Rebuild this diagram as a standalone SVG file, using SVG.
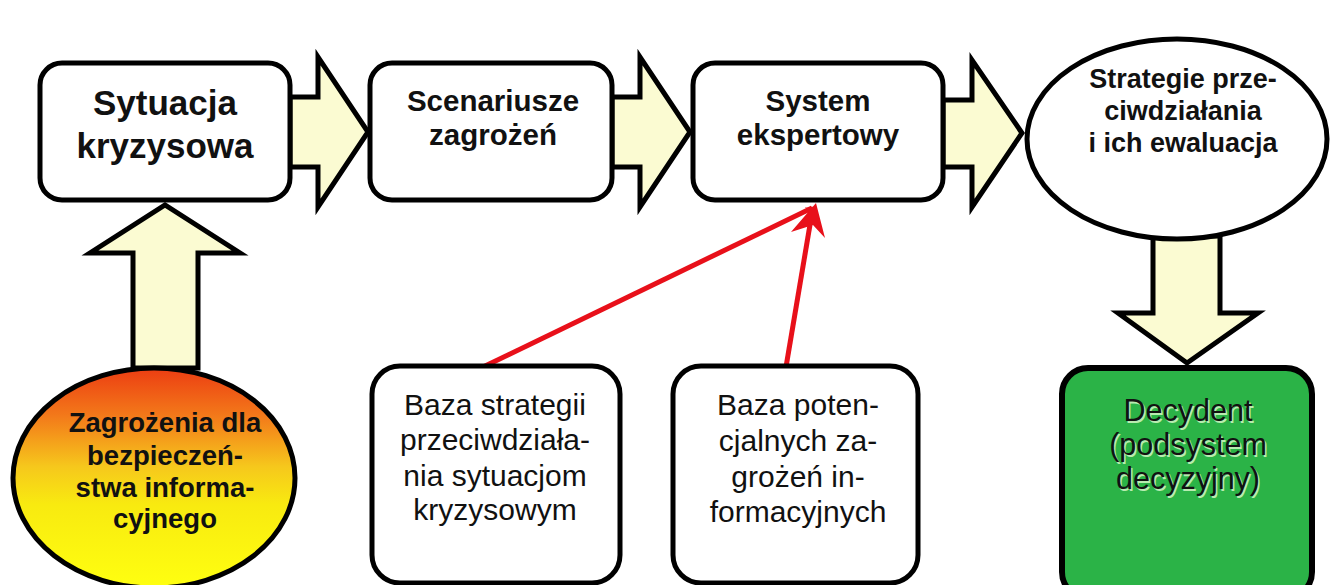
<svg xmlns="http://www.w3.org/2000/svg" width="1330" height="585" viewBox="0 0 1330 585">
  <defs>
    <linearGradient id="threatFill" x1="0" y1="0" x2="0" y2="1">
      <stop offset="0" stop-color="#ec3d12"/>
      <stop offset="0.22" stop-color="#f37a1a"/>
      <stop offset="0.45" stop-color="#f6c81c"/>
      <stop offset="0.62" stop-color="#f8ea10"/>
      <stop offset="1" stop-color="#ffff10"/>
    </linearGradient>
    <marker id="redHead" viewBox="0 0 10 10" refX="9" refY="5" markerWidth="7" markerHeight="7" markerUnits="userSpaceOnUse" orient="auto">
      <path d="M0,0 L10,5 L0,10 L3,5 Z" fill="#e8101a"/>
    </marker>
  </defs>
  <style>
    .box { fill: #ffffff; stroke: #000000; stroke-width: 5; }
    .flow { fill: #fbfbd2; stroke: #000000; stroke-width: 5; stroke-linejoin: miter; }
    .bold { font-family: "Liberation Sans", Arial, sans-serif; font-weight: bold; fill: #111111; text-anchor: middle; }
    .plain { font-family: "Liberation Sans", Arial, sans-serif; fill: #111111; text-anchor: middle; }
    .glow { font-family: "Liberation Sans", Arial, sans-serif; fill: #b8ecb0; text-anchor: middle; }
    .link { stroke: #e8101a; stroke-width: 5; fill: none; }
  </style>
  <rect width="1330" height="585" fill="#ffffff"/>

  <!-- block arrows and red links -->
  <g id="connectors">
    <path class="flow" d="M290,97 L318,97 L318,57 L368,132 L318,207 L318,167 L290,167 Z"/>
    <path class="flow" d="M612,97 L640,97 L640,57 L690,132 L640,207 L640,167 L612,167 Z"/>
    <path class="flow" d="M943,100 L972,100 L972,60 L1022,133 L972,207 L972,167 L943,167 Z"/>
    <path class="flow" d="M133,368 L133,253 L90,253 L165,205 L240,253 L198,253 L198,368 Z"/>
    <path class="flow" d="M1153,236 L1153,313 L1118,313 L1187,363 L1258,313 L1220,313 L1220,236 Z"/>
    <line class="link" x1="483" y1="367" x2="812" y2="208" marker-end="url(#redHead)"/>
    <line class="link" x1="786" y1="367" x2="813" y2="207" marker-end="url(#redHead)"/>
    <path d="M791,232 L816,203 L825,238 L813,225 Z" fill="#e8101a"/>
  </g>

  <g id="sytuacja">
    <rect class="box" x="40" y="63" width="250" height="137" rx="22"/>
    <text class="bold" font-size="35" x="165" y="115">Sytuacja</text>
    <text class="bold" font-size="35" x="165" y="158">kryzysowa</text>
  </g>

  <g id="scenariusze">
    <rect class="box" x="370" y="63" width="242" height="137" rx="22"/>
    <text class="bold" font-size="29.5" x="493" y="111">Scenariusze</text>
    <text class="bold" font-size="29.5" x="493" y="145">zagrożeń</text>
  </g>

  <g id="system">
    <rect class="box" x="693" y="63" width="250" height="137" rx="22"/>
    <text class="bold" font-size="29.5" x="818" y="111">System</text>
    <text class="bold" font-size="29.5" x="818" y="145">ekspertowy</text>
  </g>

  <g id="strategie">
    <ellipse class="box" cx="1177" cy="139" rx="150" ry="100"/>
    <text class="bold" font-size="27" x="1183" y="88">Strategie prze-</text>
    <text class="bold" font-size="27" x="1183" y="120">ciwdziałania</text>
    <text class="bold" font-size="27" x="1183" y="152">i ich ewaluacja</text>
  </g>

  <g id="zagrozenia">
    <ellipse cx="154" cy="478" rx="141" ry="110" fill="url(#threatFill)" stroke="#000000" stroke-width="5"/>
    <text class="bold" font-size="27.5" x="165" y="432">Zagrożenia dla</text>
    <text class="bold" font-size="27.5" x="165" y="465">bezpieczeń-</text>
    <text class="bold" font-size="27.5" x="165" y="497">stwa informa-</text>
    <text class="bold" font-size="27.5" x="165" y="528">cyjnego</text>
  </g>

  <g id="baza-strategii">
    <rect class="box" x="372" y="366" width="248" height="217" rx="28"/>
    <text class="plain" font-size="30" x="495" y="415">Baza strategii</text>
    <text class="plain" font-size="30" x="495" y="450">przeciwdziała-</text>
    <text class="plain" font-size="30" x="495" y="486">nia sytuacjom</text>
    <text class="plain" font-size="30" x="495" y="520">kryzysowym</text>
  </g>

  <g id="baza-zagrozen">
    <rect class="box" x="673" y="366" width="245" height="217" rx="28"/>
    <text class="plain" font-size="30" x="798" y="415">Baza poten-</text>
    <text class="plain" font-size="30" x="798" y="451">cjalnych za-</text>
    <text class="plain" font-size="30" x="798" y="487">grożeń in-</text>
    <text class="plain" font-size="30" x="798" y="522">formacyjnych</text>
  </g>

  <g id="decydent">
    <rect x="1062" y="368" width="250" height="230" rx="26" fill="#2bb347" stroke="#000000" stroke-width="6"/>
    <!-- pale offset copy gives the lettering its embossed edge -->
    <text class="glow" font-size="30.5" x="1189.5" y="422.5">Decydent</text>
    <text class="glow" font-size="30.5" x="1189.5" y="456.5">(podsystem</text>
    <text class="glow" font-size="30.5" x="1189.5" y="490.5">decyzyjny)</text>
    <text class="plain" font-size="30.5" x="1188" y="421">Decydent</text>
    <text class="plain" font-size="30.5" x="1188" y="455">(podsystem</text>
    <text class="plain" font-size="30.5" x="1188" y="489">decyzyjny)</text>
  </g>
</svg>
